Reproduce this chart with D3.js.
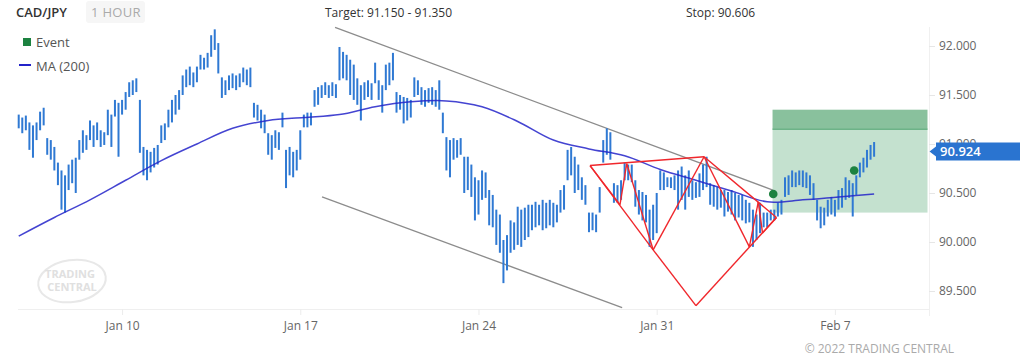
<!DOCTYPE html>
<html><head><meta charset="utf-8">
<script src="https://cdn.jsdelivr.net/npm/d3@7"></script>
<style>
html,body{margin:0;padding:0;background:#fff;}
svg{display:block;font-family:"Open Sans",sans-serif;}
</style></head><body>
<svg id="chart" width="1020" height="361"></svg>
<script>
// ---- data ----
const symbol = "CAD/JPY";
const timeframe = "1 HOUR";
const targetText = "Target: 91.150 - 91.350";
const stopText = "Stop: 90.606";
const copyrightText = "\u00a9 2022 TRADING CENTRAL";

// bars: trading-day offset from Jan 10, step 0.1 trading day
const barStartDay = -2.9, barStepDay = 0.1;
const barHigh = [
91.30,91.27,91.29,91.22,91.19,91.22,91.33,91.37,91.06,91.04,
90.97,90.81,90.73,90.68,90.79,90.84,90.86,91.04,91.14,91.09,
91.24,91.19,91.22,91.14,91.12,91.35,91.30,91.45,91.42,91.45,
91.53,91.63,91.65,91.67,91.45,90.97,90.94,90.92,90.96,90.99,
91.19,91.21,91.35,91.45,91.50,91.55,91.70,91.76,91.79,91.73,
91.79,91.91,91.88,91.93,92.11,92.17,92.03,91.68,91.65,91.70,
91.72,91.70,91.72,91.78,91.76,91.78,91.42,91.40,91.35,91.30,
91.11,91.09,91.14,91.12,91.32,90.94,90.97,90.92,90.94,91.14,
91.30,91.32,91.32,91.55,91.58,91.60,91.63,91.60,91.63,91.61,
91.99,91.94,91.91,91.86,91.81,91.67,91.60,91.63,91.65,91.62,
91.83,91.65,91.60,91.81,91.83,91.93,91.53,91.50,91.48,91.47,
91.45,91.68,91.65,91.58,91.55,91.57,91.58,91.55,91.65,91.32,
91.07,91.04,91.06,91.04,91.06,90.87,90.87,90.79,90.66,90.63,
90.73,90.71,90.53,90.48,90.33,90.28,90.02,90.07,90.22,90.20,
90.36,90.33,90.35,90.38,90.38,90.41,90.38,90.43,90.40,90.43,
90.40,90.38,90.53,90.58,90.94,90.97,90.87,90.79,90.66,90.58,
90.30,90.30,90.28,90.56,91.04,91.16,91.12,90.60,90.58,90.63,
90.81,90.79,90.79,90.63,90.53,90.51,90.48,90.33,90.38,90.50,
90.73,90.71,90.66,90.66,90.68,90.73,90.77,90.68,90.73,90.63,
90.61,90.70,90.79,90.87,90.60,90.58,90.56,90.53,90.53,90.51,
90.53,90.50,90.48,90.48,90.43,90.40,90.33,90.28,90.40,90.30,
90.30,90.33,90.33,90.40,90.43,90.66,90.68,90.73,90.71,90.73,
90.73,90.71,90.68,90.60,90.43,90.36,90.35,90.43,90.46,90.43,
90.53,90.55,90.66,90.63,90.60,90.68,90.81,90.86,90.94,90.99,91.02];
const barLow = [
91.16,91.11,91.14,90.94,90.86,91.04,91.14,91.19,90.89,90.84,
90.73,90.58,90.33,90.30,90.53,90.60,90.50,90.84,90.91,90.94,
91.04,90.97,91.04,90.97,90.99,91.09,90.97,91.28,90.87,91.30,
91.35,91.48,91.50,91.53,90.91,90.68,90.63,90.71,90.76,90.79,
91.01,91.04,91.17,91.22,91.30,91.35,91.50,91.58,91.60,91.58,
91.63,91.76,91.76,91.78,91.89,91.96,91.72,91.47,91.50,91.55,
91.57,91.55,91.58,91.63,91.60,91.58,91.27,91.24,91.16,91.11,
90.89,90.84,90.96,90.94,91.17,90.55,90.68,90.66,90.73,90.84,
91.17,91.17,91.19,91.38,91.40,91.47,91.50,91.47,91.49,91.47,
91.65,91.67,91.65,91.50,91.45,91.40,91.24,91.45,91.48,91.45,
91.62,91.45,91.32,91.55,91.60,91.65,91.32,91.35,91.21,91.24,
91.27,91.48,91.50,91.40,91.38,91.42,91.40,91.38,91.35,91.11,
90.73,90.66,90.84,90.86,90.89,90.50,90.53,90.46,90.22,90.28,
90.43,90.45,90.17,90.15,89.97,89.89,89.58,89.71,89.89,89.92,
89.97,89.95,90.02,90.05,90.12,90.15,90.17,90.12,90.14,90.17,
90.15,90.20,90.30,90.33,90.63,90.68,90.50,90.53,90.43,90.38,
90.10,90.12,90.10,90.30,90.81,90.89,90.84,90.40,90.40,90.43,
90.63,90.63,90.61,90.36,90.28,90.22,90.20,89.95,90.02,90.09,
90.53,90.53,90.56,90.55,90.53,90.33,90.43,90.33,90.46,90.43,
90.45,90.46,90.53,90.56,90.38,90.36,90.33,90.35,90.26,90.31,
90.28,90.22,90.25,90.22,90.19,90.20,89.95,90.02,90.09,90.15,
90.15,90.22,90.22,90.26,90.28,90.46,90.48,90.56,90.56,90.58,
90.56,90.55,90.48,90.43,90.22,90.14,90.17,90.26,90.28,90.26,
90.33,90.35,90.43,90.45,90.26,90.48,90.66,90.71,90.76,90.84,90.87];

const maDays = [-2.9,-1.9,-0.9,0.1,1.1,2.1,3.1,4.1,5.1,6.1,7.1,8.1,9.1,10.1,11.1,12.1,13.1,14.1,15.1,16.1,17.1,18.1,19.1,20.1,21.1];
const maValues = [90.06,90.25,90.43,90.63,90.83,91.00,91.16,91.24,91.27,91.30,91.38,91.43,91.44,91.38,91.23,91.04,90.95,90.88,90.74,90.63,90.52,90.41,90.43,90.46,90.49];

const tickDays = [0,5,10,15,20];
const tickLabels = ["Jan 10","Jan 17","Jan 24","Jan 31","Feb 7"];
const priceTicks = [89.5,90.0,90.5,91.0,91.5,92.0];

const channelUpperDays = [5.975, 18.26], channelUpperPrices = [92.19, 90.53];
const channelLowerDays = [5.61, 14.03], channelLowerPrices = [90.46, 89.33];

const patternNames  = ["A","E","B","D","C","F","G","H","I","J"];
const patternDays   = [13.13,13.97,14.16,14.90,16.33,17.60,17.85,17.97,18.36,16.10];
const patternPrices = [90.78,90.38,90.80,89.92,90.87,89.95,90.41,90.09,90.25,89.35];
const patternSegments = [["A","C"],["A","E"],["E","B"],["B","D"],["A","D"],["D","C"],["C","F"],["C","I"],["F","G"],["G","H"],["H","I"],["D","J"],["J","I"]];

const targetLow = 91.15, targetHigh = 91.35, boxBottom = 90.30, boxStartDay = 18.25;
const eventDays = [18.27, 20.54], eventPrices = [90.49, 90.73];
const lastPrice = 90.924;

// ---- scales ----
const svg = d3.select("#chart");
const x = d3.scaleLinear().domain([-2.92, 22.64]).range([18, 929]);
const y = d3.scaleLinear().domain([89.316, 92.194]).range([309, 27]);

// ---- frame ----
svg.append("line").attr("x1",18).attr("x2",929).attr("y1",309.5).attr("y2",309.5).attr("stroke","#efefef");
svg.append("line").attr("x1",929.5).attr("x2",929.5).attr("y1",27).attr("y2",316).attr("stroke","#f0f0f0");

// watermark logo
const logo = svg.append("g").attr("transform","translate(72,281) rotate(-8)");
logo.append("ellipse").attr("rx",34).attr("ry",21).attr("fill","none").attr("stroke","#e8e8e8").attr("stroke-width",2);
const logoTxt = svg.append("g").attr("fill","#e0e0e0").attr("font-weight","bold").attr("font-size",11).attr("text-anchor","middle");
logoTxt.append("text").attr("x",70).attr("y",278).text("TRADING");
logoTxt.append("text").attr("x",72).attr("y",291).text("CENTRAL");

// target box
const xRight = x.range()[1] - 1.5;
svg.append("rect").attr("x",x(boxStartDay)).attr("width",xRight - x(boxStartDay))
  .attr("y",y(targetLow)).attr("height",y(boxBottom)-y(targetLow)).attr("fill","#c4e1cf");
svg.append("rect").attr("x",x(boxStartDay)).attr("width",xRight - x(boxStartDay))
  .attr("y",y(targetHigh)).attr("height",y(targetLow)-y(targetHigh)).attr("fill","#89c19d");
svg.append("line").attr("x1",x(boxStartDay)).attr("x2",xRight).attr("y1",y(targetLow)).attr("y2",y(targetLow))
  .attr("stroke","#6db388").attr("stroke-width",1.5);

// channel lines
[[channelUpperDays,channelUpperPrices],[channelLowerDays,channelLowerPrices]].forEach(([ds,ps])=>{
  svg.append("line").attr("x1",x(ds[0])).attr("y1",y(ps[0])).attr("x2",x(ds[1])).attr("y2",y(ps[1]))
    .attr("stroke","#8c8c8c").attr("stroke-width",1.3);
});

// bars
const bars = barHigh.map((h,i)=>({day: barStartDay + i*barStepDay, high:h, low:barLow[i]}));
svg.append("g").selectAll("rect").data(bars).join("rect")
  .attr("x", d=>x(d.day)-1).attr("width",2)
  .attr("y", d=>y(d.high)).attr("height", d=>Math.max(1,y(d.low)-y(d.high)))
  .attr("fill","#2f79d3");

// MA
const maLine = d3.line().x((d,i)=>x(maDays[i])).y(d=>y(d)).curve(d3.curveCatmullRom);
svg.append("path").attr("d",maLine(maValues)).attr("fill","none").attr("stroke","#2323c9")
  .attr("stroke-opacity",0.85).attr("stroke-width",1.5);

// pattern
const pIdx = n => patternNames.indexOf(n);
svg.append("g").selectAll("line").data(patternSegments).join("line")
  .attr("x1",s=>x(patternDays[pIdx(s[0])])).attr("y1",s=>y(patternPrices[pIdx(s[0])]))
  .attr("x2",s=>x(patternDays[pIdx(s[1])])).attr("y2",s=>y(patternPrices[pIdx(s[1])]))
  .attr("stroke","#f0272c").attr("stroke-width",1.4);

// events
svg.append("g").selectAll("circle").data(eventDays).join("circle")
  .attr("cx",(d)=>x(d)).attr("cy",(d,i)=>y(eventPrices[i])).attr("r",4.3).attr("fill","#1c8240");

// x axis
const xAxis = d3.axisBottom(x).tickValues(tickDays).tickFormat((d,i)=>tickLabels[i]).tickSize(6).tickPadding(6);
const gx = svg.append("g").attr("transform","translate(0,309)").call(xAxis);
gx.select(".domain").remove();
gx.selectAll(".tick line").attr("stroke","#ececec");
gx.selectAll(".tick text").attr("fill","#666").attr("font-size",12).attr("font-family","Open Sans");

// y axis
const yAxis = d3.axisRight(y).tickValues(priceTicks).tickFormat(d3.format(".3f")).tickSize(6).tickPadding(4);
const gy = svg.append("g").attr("transform","translate(929,0)").call(yAxis);
gy.select(".domain").remove();
gy.selectAll(".tick line").attr("stroke","#e6e6e6");
gy.selectAll(".tick text").attr("fill","#666").attr("font-size",12).attr("font-family","Open Sans");

// last price label
const ly = y(lastPrice);
svg.append("path").attr("d",`M929.5,${ly} L936,${ly-5} L936,${ly-9} L1020,${ly-9} L1020,${ly+9} L936,${ly+9} L936,${ly+5} Z`)
  .attr("fill","#2a74d0");
svg.append("text").attr("x",940).attr("y",ly+4.5).attr("fill","#fff").attr("font-size",13).attr("font-weight",600).text(d3.format(".3f")(lastPrice));

// header
svg.append("text").attr("x",16).attr("y",17).attr("fill","#333").attr("font-size",13).attr("font-weight",600).text(symbol);
svg.append("rect").attr("x",86).attr("y",1).attr("width",59).attr("height",22).attr("rx",3).attr("fill","#f6f6f6");
svg.append("text").attr("x",91).attr("y",17).attr("fill","#aaa").attr("font-size",13).attr("letter-spacing",0.3).text(timeframe);
svg.append("text").attr("x",325).attr("y",17).attr("fill","#333").attr("font-size",12).text(targetText);
svg.append("text").attr("x",686).attr("y",17).attr("fill","#333").attr("font-size",12).text(stopText);

// legend
svg.append("rect").attr("x",23).attr("y",38).attr("width",8).attr("height",8).attr("fill","#1c8240");
svg.append("text").attr("x",36).attr("y",47).attr("fill","#555").attr("font-size",13).text("Event");
svg.append("line").attr("x1",19).attr("x2",31).attr("y1",65).attr("y2",65).attr("stroke","#2323c9").attr("stroke-width",2);
svg.append("text").attr("x",36).attr("y",71).attr("fill","#555").attr("font-size",13).text("MA (200)");

// copyright
svg.append("text").attr("x",954).attr("y",353).attr("text-anchor","end").attr("fill","#aaa").attr("font-size",12).text(copyrightText);
</script>
</body></html>
